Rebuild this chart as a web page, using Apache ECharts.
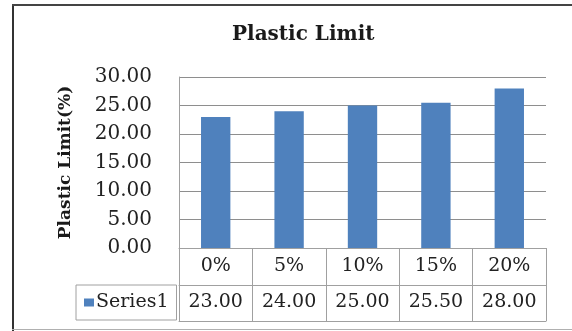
<!DOCTYPE html>
<html>
<head>
<meta charset="utf-8">
<script src="https://cdn.jsdelivr.net/npm/echarts@6/dist/echarts.min.js"></script>
<style>
  html, body { margin: 0; padding: 0; background: #ffffff; }
  #chart { width: 572px; height: 331px; }
</style>
</head>
<body>
<div id="chart"></div>
<script>
// Plastic limit by replacement percentage
var categories = ['0%', '5%', '10%', '15%', '20%'];
var seriesName = 'Series1';
var plasticLimit = [23.00, 24.00, 25.00, 25.50, 28.00];
var yTicks = { min: 0, max: 30, interval: 5 };

var serif = 'DejaVu Serif';
var gridColor = '#8e8e8e';
var tableColor = '#a0a0a0';
var barColor = '#4f81bd';

var chart = echarts.init(document.getElementById('chart'), null, { renderer: 'canvas' });

chart.setOption({
  animation: false,
  backgroundColor: '#ffffff',
  title: {
    text: 'Plastic Limit',
    left: 232,
    top: 25,
    padding: 0,
    textStyle: { fontFamily: serif, fontWeight: 'bold', fontSize: 20, color: '#1a1a1a' }
  },
  legend: {
    data: [seriesName],
    left: 76,
    top: 285,
    padding: [8, 8, 8, 8],
    itemWidth: 10,
    itemHeight: 8,
    itemGap: 0,
    icon: 'rect',
    borderColor: tableColor,
    borderWidth: 1,
    textStyle: { fontFamily: serif, fontSize: 19, color: '#222', padding: [0, 0, 0, -3] }
  },
  grid: { left: 179, right: 26, top: 77, bottom: 83, containLabel: false },
  xAxis: [
    {
      type: 'category',
      data: categories,
      position: 'bottom',
      axisLine: { show: true, lineStyle: { color: tableColor, width: 1 } },
      axisTick: { show: true, inside: false, length: 73, lineStyle: { color: tableColor, width: 1 } },
      axisLabel: { fontFamily: serif, fontSize: 19, color: '#222', margin: 9 },
      splitLine: { show: false }
    },
    {
      type: 'category',
      data: plasticLimit.map(function (v) { return v.toFixed(2); }),
      position: 'bottom',
      offset: 37,
      axisLine: { show: true, lineStyle: { color: tableColor, width: 1 } },
      axisTick: { show: false },
      axisLabel: { fontFamily: serif, fontSize: 19, color: '#222', margin: 8 },
      splitLine: { show: false }
    },
    {
      type: 'category',
      data: categories,
      position: 'bottom',
      offset: 73,
      axisLine: { show: true, lineStyle: { color: tableColor, width: 1 } },
      axisTick: { show: false },
      axisLabel: { show: false },
      splitLine: { show: false }
    }
  ],
  yAxis: {
    type: 'value',
    min: yTicks.min,
    max: yTicks.max,
    interval: yTicks.interval,
    name: 'Plastic Limit(%)',
    nameLocation: 'middle',
    nameRotate: 90,
    nameGap: 105,
    nameTextStyle: { fontFamily: serif, fontWeight: 'bold', fontSize: 17, color: '#1a1a1a' },
    axisLine: { show: true, lineStyle: { color: tableColor, width: 1 } },
    axisTick: { show: false },
    axisLabel: {
      fontFamily: serif, fontSize: 20, color: '#222', margin: 27,
      formatter: function (v) { return v.toFixed(2); }
    },
    splitLine: { show: true, lineStyle: { color: gridColor, width: 1 } }
  },
  series: [
    {
      name: seriesName,
      type: 'bar',
      xAxisIndex: 0,
      data: plasticLimit,
      barWidth: '40%',
      itemStyle: { color: barColor }
    }
  ],
  graphic: [
    { type: 'line', shape: { x1: 13, y1: 4, x2: 13, y2: 331 }, style: { stroke: '#333', lineWidth: 2 } },
    { type: 'line', shape: { x1: 12, y1: 5, x2: 572, y2: 5 }, style: { stroke: '#444', lineWidth: 2 } },
    { type: 'line', shape: { x1: 12, y1: 329.5, x2: 572, y2: 329.5 }, style: { stroke: '#b0b0b0', lineWidth: 1 } }
  ]
});
</script>
</body>
</html>
